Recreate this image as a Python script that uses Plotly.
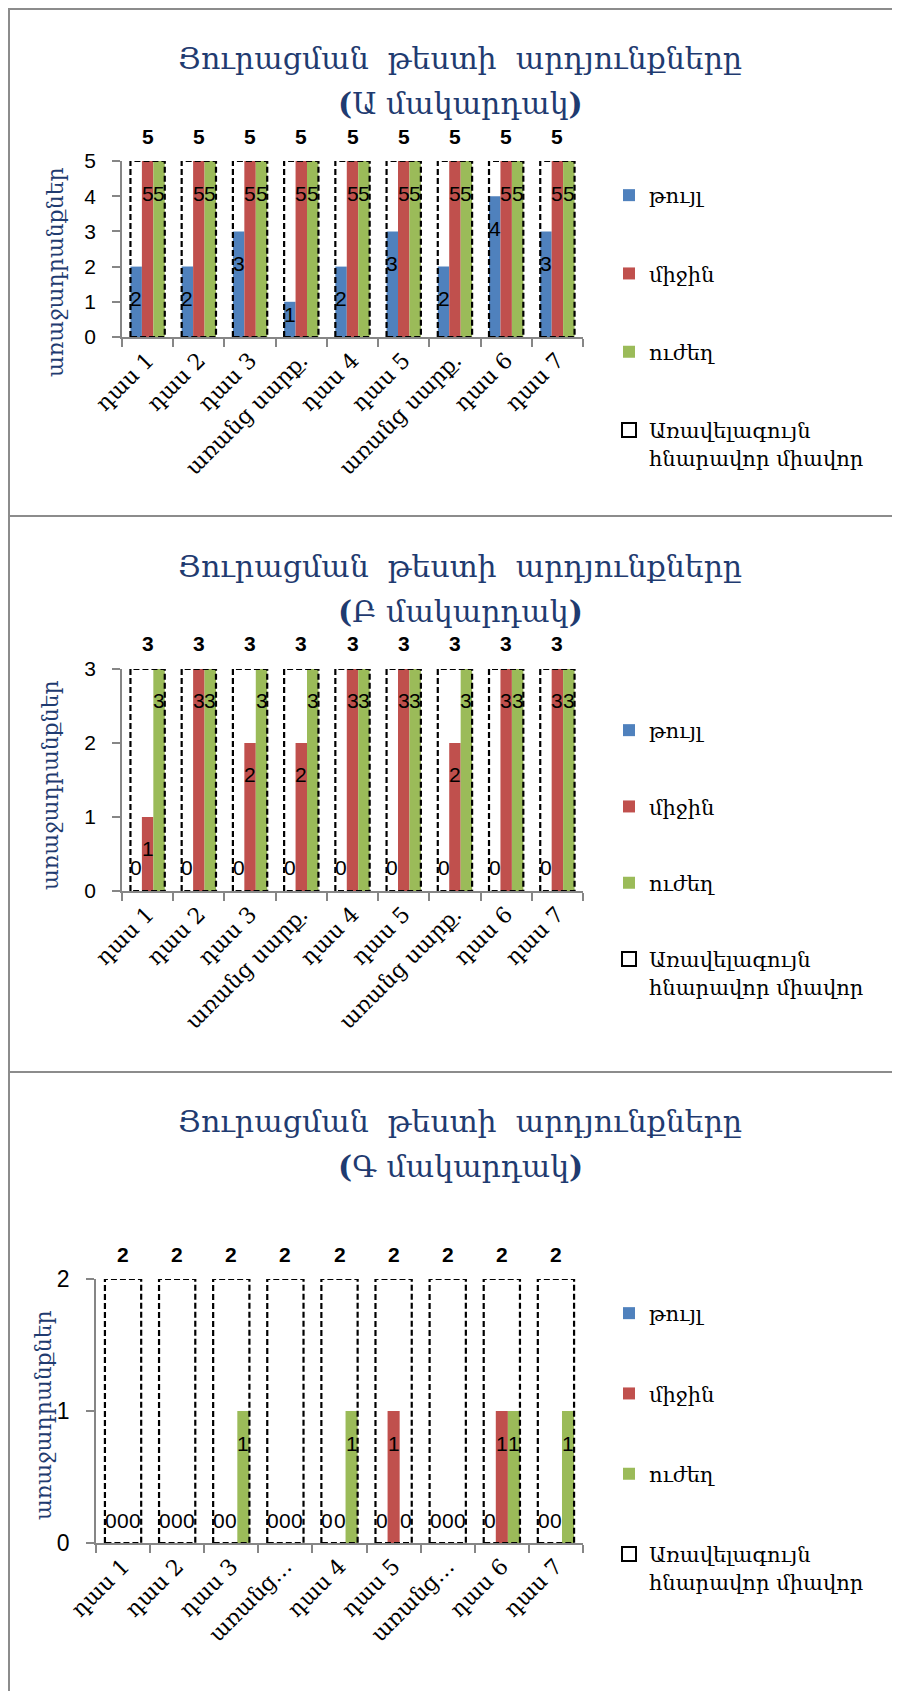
import plotly.graph_objects as go

# the page body adds an 8 px margin, so the figure is 8 px smaller and all
# pixel positions below are page positions converted with that offset
PAGE_OFF = 8
FIG_W, FIG_H = 900 - PAGE_OFF, 1691 - PAGE_OFF

# ---------------- data ----------------
series_names = ["թույլ", "միջին", "ուժեղ"]
max_name = "Առավելագույն<br>հնարավոր միավոր"
series_colors = ["#4F81BD", "#C0504D", "#9BBB59"]
y_title = "առաջադրանքներ"
chart_title = "Յուրացման\u00a0 թեստի\u00a0 արդյունքները"
levels = ["Ա", "Բ", "Գ"]

categories_A = ["դաս 1", "դաս 2", "դաս 3", "առանց սարք.", "դաս 4", "դաս 5", "առանց սարք.", "դաս 6", "դաս 7"]
weak_A = [2, 2, 3, 1, 2, 3, 2, 4, 3]
medium_A = [5, 5, 5, 5, 5, 5, 5, 5, 5]
strong_A = [5, 5, 5, 5, 5, 5, 5, 5, 5]
max_A = [5, 5, 5, 5, 5, 5, 5, 5, 5]
yticks_A = [0, 1, 2, 3, 4, 5]

categories_B = ["դաս 1", "դաս 2", "դաս 3", "առանց սարք.", "դաս 4", "դաս 5", "առանց սարք.", "դաս 6", "դաս 7"]
weak_B = [0, 0, 0, 0, 0, 0, 0, 0, 0]
medium_B = [1, 3, 2, 2, 3, 3, 2, 3, 3]
strong_B = [3, 3, 3, 3, 3, 3, 3, 3, 3]
max_B = [3, 3, 3, 3, 3, 3, 3, 3, 3]
yticks_B = [0, 1, 2, 3]

categories_C = ["դաս 1", "դաս 2", "դաս 3", "առանց…", "դաս 4", "դաս 5", "առանց…", "դաս 6", "դաս 7"]
weak_C = [0, 0, 0, 0, 0, 0, 0, 0, 0]
medium_C = [0, 0, 0, 0, 0, 1, 0, 1, 0]
strong_C = [0, 0, 1, 0, 1, 0, 0, 1, 1]
max_C = [2, 2, 2, 2, 2, 2, 2, 2, 2]
yticks_C = [0, 1, 2]

panels_data = [
    (categories_A, [weak_A, medium_A, strong_A], max_A, yticks_A),
    (categories_B, [weak_B, medium_B, strong_B], max_B, yticks_B),
    (categories_C, [weak_C, medium_C, strong_C], max_C, yticks_C),
]

# ---------------- layout (page pixels) ----------------
panels_layout = [
    dict(x0=122, x1=583, ytop=161, ybot=337, t1=59, t2=104, ytx=55, yty=272, leg=175, gap=48, tickfs=21, border=9),
    dict(x0=122, x1=583, ytop=669, ybot=891, t1=566, t2=611, ytx=50, yty=785, leg=710, gap=46, tickfs=21, border=516),
    dict(x0=96, x1=583, ytop=1279, ybot=1543, t1=1121, t2=1166, ytx=43, yty=1415, leg=1293, gap=50, tickfs=23, border=1072),
]

GROUP_W = 0.67
BAR_W = GROUP_W / 3
NAVY = "#1F3B70"
AXIS_GRAY = "#868686"
SERIF = "DejaVu Serif"
SANS = "Liberation Sans"


def px_x(p):
    return (p - PAGE_OFF) / FIG_W


def px_y(p):
    return 1 - (p - PAGE_OFF) / FIG_H


fig = go.Figure()
annotations = []
shapes = []
layout_axes = {}

for pi, ((cats, vals, mx, yticks), L) in enumerate(zip(panels_data, panels_layout)):
    sfx = "" if pi == 0 else str(pi + 1)
    xa, ya = "x" + sfx, "y" + sfx
    leg = "legend" + sfx
    n = len(cats)
    idx = list(range(n))
    ymax = max(mx)
    ppu = (L["ybot"] - L["ytop"]) / ymax

    for k, (name, color, v) in enumerate(zip(series_names, series_colors, vals)):
        fig.add_trace(go.Bar(
            x=idx, y=v, width=BAR_W, offset=-GROUP_W / 2 + k * BAR_W,
            marker=dict(color=color, line=dict(width=0)),
            name=name, legendgroup=f"g{k}", legend=leg,
            xaxis=xa, yaxis=ya, hoverinfo="skip",
        ))
        # value labels
        for i, val in enumerate(v):
            xc = i - GROUP_W / 2 + (k + 0.5) * BAR_W
            if val * ppu - 32 < 23:
                yy, sh = 0, 23
            else:
                yy, sh = val, -32
            annotations.append(dict(
                x=xc, y=yy, xref=xa, yref=ya, text=str(val), showarrow=False,
                yshift=sh, yanchor="middle", xanchor="center",
                font=dict(family=SANS, size=21, color="black"),
            ))

    # dashed outline boxes for the maximum
    bx, by = [], []
    for i, m in enumerate(mx):
        l, r = i - GROUP_W / 2, i + GROUP_W / 2
        bx += [l, l, r, r, l, None]
        by += [0, m, m, 0, 0, None]
    fig.add_trace(go.Scatter(
        x=bx, y=by, mode="lines", line=dict(color="black", width=2.2, dash="6px,3px"),
        showlegend=False, legendgroup="g3", legend=leg, xaxis=xa, yaxis=ya,
        cliponaxis=False, hoverinfo="skip",
    ))
    fig.add_trace(go.Scatter(
        x=[None], y=[None], mode="markers",
        marker=dict(symbol="square-open", size=14, color="black", line=dict(width=2)),
        name=max_name, legendgroup="g3", legend=leg, xaxis=xa, yaxis=ya,
    ))
    for i, m in enumerate(mx):
        annotations.append(dict(
            x=i, y=m, xref=xa, yref=ya, text=f"<b>{m}</b>", showarrow=False,
            yshift=25, yanchor="middle", xanchor="center",
            font=dict(family=SANS, size=21, color="black"),
        ))

    layout_axes["xaxis" + sfx] = dict(
        domain=[px_x(L["x0"]), px_x(L["x1"])], anchor=ya, range=[-0.5, n - 0.5],
        tickmode="array", tickvals=idx, ticktext=cats, tickangle=-45,
        ticks="", showline=True, linecolor=AXIS_GRAY, linewidth=1.5,
        showgrid=False, zeroline=False, automargin=False,
        tickfont=dict(family=SERIF, size=22, color="black"),
        minor=dict(tickmode="linear", tick0=-0.5, dtick=1, ticks="outside",
                   ticklen=8, tickcolor=AXIS_GRAY, tickwidth=1.5, showgrid=False),
        fixedrange=True,
    )
    layout_axes["yaxis" + sfx] = dict(
        domain=[px_y(L["ybot"]), px_y(L["ytop"])], anchor=xa, range=[0, ymax],
        tickmode="array", tickvals=yticks, ticks="outside", ticklen=8,
        tickcolor=AXIS_GRAY, tickwidth=1.5, showline=True, linecolor=AXIS_GRAY,
        linewidth=1.5, showgrid=False, zeroline=False, automargin=False,
        tickfont=dict(family=SANS, size=L["tickfs"], color="black"),
        ticklabelstandoff=12, fixedrange=True,
    )
    layout_axes[leg] = dict(
        x=px_x(609), y=px_y(L["leg"]), xanchor="left", yanchor="top",
        font=dict(family=SERIF, size=21, color="black"),
        tracegroupgap=L["gap"], traceorder="grouped", valign="top",
        bgcolor="rgba(0,0,0,0)", itemclick=False, itemdoubleclick=False,
    )

    # titles
    annotations.append(dict(
        x=px_x(460), y=px_y(L["t1"]), xref="paper", yref="paper", text=chart_title,
        showarrow=False, xanchor="center", yanchor="middle",
        font=dict(family=SERIF, size=30, color=NAVY),
    ))
    annotations.append(dict(
        x=px_x(460), y=px_y(L["t2"]), xref="paper", yref="paper",
        text=f"<b>(</b>{levels[pi]} մակարդակ<b>)</b>",
        showarrow=False, xanchor="center", yanchor="middle",
        font=dict(family=SERIF, size=30, color=NAVY),
    ))
    annotations.append(dict(
        x=px_x(L["ytx"]), y=px_y(L["yty"]), xref="paper", yref="paper", text=y_title,
        showarrow=False, xanchor="center", yanchor="middle", textangle=-90,
        font=dict(family=SERIF, size=22, color=NAVY),
    ))
    # panel border (top line)
    shapes.append(dict(type="line", xref="paper", yref="paper",
                       x0=0, x1=1.0, y0=px_y(L["border"]), y1=px_y(L["border"]),
                       line=dict(color="#8C8C8C", width=2)))

shapes.append(dict(type="line", xref="paper", yref="paper",
                   x0=1 / FIG_W, x1=1 / FIG_W, y0=0, y1=px_y(9),
                   line=dict(color="#8C8C8C", width=2)))

fig.update_layout(
    width=FIG_W, height=FIG_H, autosize=False,
    margin=dict(l=0, r=0, t=0, b=0, pad=0, autoexpand=False),
    paper_bgcolor="white", plot_bgcolor="white",
    barmode="overlay", showlegend=True,
    annotations=annotations, shapes=shapes,
    **layout_axes,
)

fig.write_html("out.html")
